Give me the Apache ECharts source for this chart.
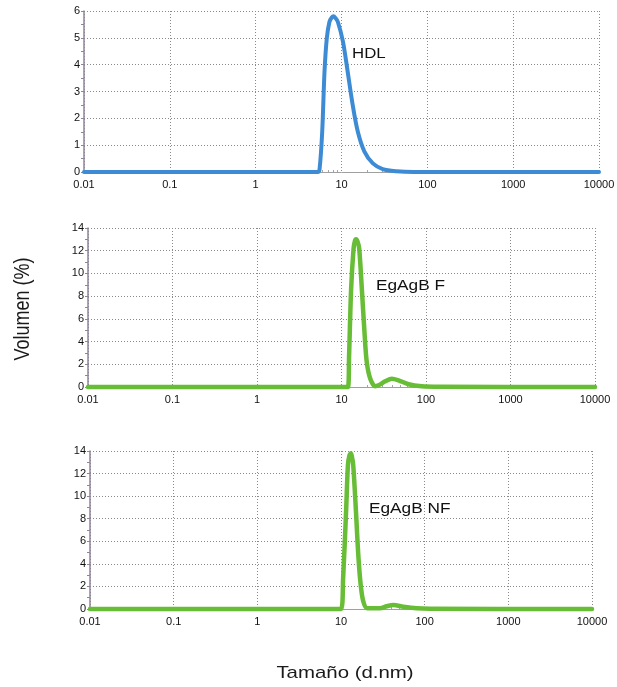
<!DOCTYPE html>
<html>
<head>
<meta charset="utf-8">
<script src="https://cdn.jsdelivr.net/npm/echarts@6/dist/echarts.min.js"></script>
<style>
html,body{margin:0;padding:0;background:#fff;}
#chart{width:617px;height:687px;}
</style>
</head>
<body>
<div id="chart"></div>
<script>
// ---- data ----
const xTickLabels = ['0.01', '0.1', '1', '10', '100', '1000', '10000'];
const xMinorTicks = [0.02,0.03,0.04,0.05,0.06,0.07,0.08,0.09,
  0.2,0.3,0.4,0.5,0.6,0.7,0.8,0.9, 2,3,4,5,6,7,8,9,
  20,30,40,50,60,70,80,90, 200,300,400,500,600,700,800,900,
  2000,3000,4000,5000,6000,7000,8000,9000];
const yTicksHDL = [0, 1, 2, 3, 4, 5, 6];
const yTicksEg = [0, 2, 4, 6, 8, 10, 12, 14];

const hdlSize   = [0.01, 5.3, 5.55, 5.96, 6.34, 6.74, 7.24, 7.7, 8.07, 8.5, 9.06, 10.4, 11.8, 13.5, 15.5, 18.5, 23.2, 30.2, 43.3, 70, 10000];
const hdlVolume = [0,    0,   0.1,  1.5,  3.74, 4.98, 5.6,  5.76, 5.8, 5.74, 5.6,  4.86, 3.74, 2.5,  1.5,  0.76, 0.32, 0.11, 0.03, 0,  0];

const fSize   = [0.01, 11.9, 12.3, 13.0, 13.9, 14.4, 14.9, 15.5, 16.2, 17.4, 18.7, 19.9, 21.9, 25.1, 27.4, 32.9, 39.4, 47.3, 62, 89, 152, 10000];
const fVolume = [0,    0,    2.79, 8.65, 12.2, 12.85, 13.0, 12.8, 12.2, 8.65, 4.84, 2.2,  0.73, 0.07, 0.15, 0.5,  0.73, 0.59, 0.24, 0.06, 0.02, 0];

const nfSize   = [0.01, 10.0, 10.6, 11.5, 12.1, 12.6, 13.1, 13.5, 14.0, 15.1, 16.1, 17.2, 18.5, 20.6, 29.2, 35.2, 42.2, 55.5, 80, 116, 10000];
const nfVolume = [0,    0,    2.72, 8.62, 12.75, 13.6, 13.79, 13.5, 12.75, 8.62, 4.78, 2.13, 0.65, 0.06, 0.06, 0.24, 0.35, 0.2, 0.06, 0.02, 0];

const panelNames = ['HDL', 'EgAgB F', 'EgAgB NF'];
// -------------------------------------

const FONT = 'Liberation Sans, Arial, Helvetica, sans-serif';
const zip = (a, b) => a.map((v, i) => [v, b[i]]);

const grids = [
  {left: 84, top: 11, width: 515, height: 161},
  {left: 88, top: 228, width: 507, height: 159},
  {left: 90, top: 451, width: 502, height: 158}
].map(g => Object.assign({outerBoundsMode: 'none', containLabel: false}, g));

const dotted = {type: [1, 2], color: '#8a8a8a', width: 1};
const yAxisColor = '#8f8499';

const xAxes = [], yAxes = [];
grids.forEach((g, i) => {
  xAxes.push({
    type: 'log', logBase: 10, gridIndex: i,
    min: Number(xTickLabels[0]), max: Number(xTickLabels[xTickLabels.length - 1]),
    splitNumber: xTickLabels.length - 1,
    position: 'bottom',
    axisLine: {show: true, onZero: false, lineStyle: {color: '#a0a0a0', width: 1}},
    axisTick: {show: false},
    axisLabel: {
      fontSize: 11, color: '#111', margin: 7, fontFamily: FONT,
      formatter: v => xTickLabels[Math.round(Math.log10(v)) + 2]
    },
    splitLine: {show: true, lineStyle: dotted}
  });
  xAxes.push({
    type: 'log', logBase: 10, gridIndex: i,
    min: Number(xTickLabels[0]), max: Number(xTickLabels[xTickLabels.length - 1]),
    position: 'bottom', offset: 0,
    axisLine: {show: false},
    axisLabel: {show: false},
    splitLine: {show: false},
    axisTick: {show: true, inside: true, length: 2, customValues: xMinorTicks, lineStyle: {color: '#a5a5a5'}}
  });
  const ticks = i === 0 ? yTicksHDL : yTicksEg;
  yAxes.push({
    type: 'value', gridIndex: i,
    min: ticks[0], max: ticks[ticks.length - 1], interval: ticks[1] - ticks[0],
    axisLine: {show: true, lineStyle: {color: yAxisColor, width: 1.5}},
    axisTick: {show: true, length: 3, lineStyle: {color: yAxisColor}},
    minorTick: {show: true, splitNumber: 2, length: 3, lineStyle: {color: yAxisColor}},
    axisLabel: {fontSize: 11, color: '#111', margin: 4, fontFamily: FONT},
    splitLine: {show: true, lineStyle: dotted}
  });
});

const lineSeries = (name, xs, ys, idx, color, w) => ({
  name, type: 'line', xAxisIndex: idx * 2, yAxisIndex: idx,
  data: zip(xs, ys), showSymbol: false, symbol: 'none',
  smooth: 0.3, clip: false,
  lineStyle: {color, width: w, join: 'round', cap: 'round'}, z: 5
});

const option = {
  animation: false,
  backgroundColor: '#fff',
  textStyle: {fontFamily: FONT},
  grid: grids,
  xAxis: xAxes,
  yAxis: yAxes,
  series: [
    lineSeries(panelNames[0], hdlSize, hdlVolume, 0, '#3d8bd4', 4),
    lineSeries(panelNames[1], fSize, fVolume, 1, '#68bd36', 4.5),
    lineSeries(panelNames[2], nfSize, nfVolume, 2, '#68bd36', 4.5)
  ],
  graphic: [
    {type: 'text', x: 352, y: 54.5, scaleX: 1.2,
      style: {text: panelNames[0], fontSize: 14, fontFamily: FONT, fill: '#111', align: 'left', verticalAlign: 'middle'}},
    {type: 'text', x: 376, y: 286, scaleX: 1.15,
      style: {text: panelNames[1], fontSize: 15, fontFamily: FONT, fill: '#111', align: 'left', verticalAlign: 'middle'}},
    {type: 'text', x: 369, y: 508.7, scaleX: 1.15,
      style: {text: panelNames[2], fontSize: 15, fontFamily: FONT, fill: '#111', align: 'left', verticalAlign: 'middle'}},
    {type: 'text', x: 345, y: 673.3, scaleX: 1.2,
      style: {text: 'Tamaño (d.nm)', fontSize: 17, fontFamily: FONT, fill: '#1a1a1a', align: 'center', verticalAlign: 'middle'}},
    {type: 'text', x: 23.5, y: 309, rotation: Math.PI / 2, scaleY: 1.2,
      style: {text: 'Volumen (%)', fontSize: 18, fontFamily: FONT, fill: '#1a1a1a', align: 'center', verticalAlign: 'middle'}}
  ]
};

const chart = echarts.init(document.getElementById('chart'), null, {renderer: 'canvas'});
chart.setOption(option);
</script>
</body>
</html>
